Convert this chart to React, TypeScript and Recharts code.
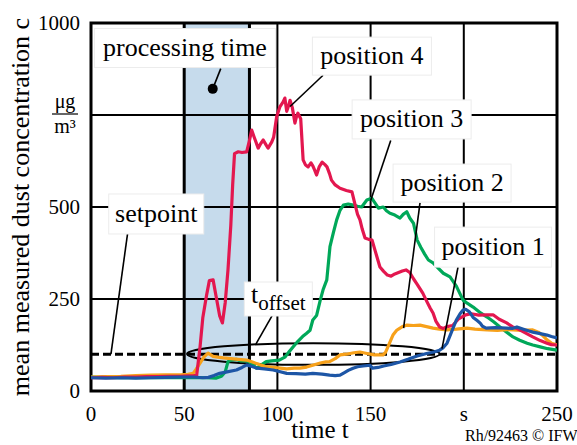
import React from "react";
import {
  LineChart,
  Line,
  XAxis,
  YAxis,
  CartesianGrid,
  ReferenceArea,
  ReferenceLine,
  ReferenceDot,
  Label,
} from "recharts";

const FONT = "'Liberation Serif', 'Times New Roman', serif";
const serif = { fontFamily: FONT };

const timeTicks = [0, 50, 100, 150, 200, 250];
const timeTickLabels = ["0", "50", "100", "150", "s", "250"];
const concTicks = [0, 250, 500, 750, 1000];
const concTickLabels = ["0", "250", "500", "", "1000"];

const setpoint = 100;
const processingTime = [50, 85];
const offsetWindowTime = [51.5, 187];
const offsetWindowConc = [71, 130];

// [time s, concentration µg/m³]
const position4 = [
  [0, 36], [6, 37], [12, 36], [18, 38], [24, 38], [30, 39], [36, 39], [42, 40], [48, 40], [52, 41],
  [55, 41], [56.7, 43], [58.5, 120], [60, 200], [62, 260], [63.5, 300], [65.5, 302], [67, 260], [69, 205], [70.5, 185],
  [72, 240], [73.5, 330], [75, 450], [76, 560], [77, 645], [79, 650], [81, 648], [83.5, 650], [85, 680], [86.2, 709],
  [87.5, 690], [89.7, 660], [91, 672], [92.4, 682], [94, 668], [95, 660], [97, 677], [98, 690], [99.6, 745], [101.4, 773],
  [103, 785], [104, 796], [105, 760], [106, 775], [106.8, 790], [108, 770], [109.4, 728], [110.2, 745], [111, 755], [112.5, 740],
  [113.8, 628], [115, 615], [116.5, 609], [118, 620], [119, 612], [120, 600], [121, 587], [122.5, 610], [124, 622], [125.5, 615],
  [126.6, 609], [128, 590], [129, 573], [131, 560], [133.6, 551], [137, 545], [140, 541], [141.5, 510], [143, 480], [144.3, 465],
  [145.5, 440], [147, 416], [149, 412], [150.8, 410], [152.5, 380], [155, 337], [157, 325], [159, 315], [161, 312], [163, 318],
  [165, 322], [167, 326], [169, 329], [171, 322], [173, 305], [175, 290], [178, 266], [180, 245], [182, 225], [183.5, 212],
  [185, 190], [187, 174], [189, 170], [191, 175], [194, 178], [197, 195], [201, 207], [204, 210], [208, 206], [212, 207],
  [215.7, 207], [219, 195], [223, 185], [226, 175], [230, 166], [234, 155], [237, 147], [241, 137], [244.6, 130], [247, 126],
  [250, 125],
];

const position3 = [
  [0, 38], [8, 37], [16, 36], [24, 37], [32, 36], [40, 37], [48, 36], [55, 37], [62, 36], [67, 35],
  [70, 40], [72, 52], [73.5, 80], [75, 84], [78, 86], [80, 82], [83.7, 82], [86, 75], [88.9, 62], [91, 70],
  [94, 80], [97, 82], [101, 84], [104, 92], [106, 105], [108.5, 120], [111, 135], [113.5, 148], [115.7, 157], [117.5, 165],
  [119, 193], [121, 205], [123, 247], [124.5, 275], [126.5, 302], [128.2, 392], [130, 430], [131.8, 465], [133.5, 490], [135.4, 505],
  [138, 508], [140.7, 505], [143, 502], [145.2, 500], [148, 519], [150.6, 524], [152.5, 510], [154.2, 497], [156.8, 500], [158.5, 490],
  [160.4, 483], [163, 478], [165.8, 470], [167.5, 480], [169.4, 487], [171, 470], [173, 456], [175, 410], [177, 390], [179, 372],
  [181, 356], [183.5, 348], [186, 335], [189, 320], [192.6, 310], [196, 285], [199.6, 247], [202, 238], [205, 228], [209, 212],
  [212.5, 201], [216, 188], [219.4, 174], [223, 160], [226.4, 147], [230, 138], [234, 130], [237, 125], [241, 120], [245, 115],
  [250, 111],
];

const position2 = [
  [0, 38], [8, 39], [16, 40], [24, 42], [32, 43], [40, 44], [48, 44], [52, 45], [54.8, 48], [56.5, 60],
  [58.5, 76], [60.5, 92], [62.8, 103], [65.5, 94], [68, 92], [71, 90], [75, 88], [79, 86], [83.5, 84], [87, 78],
  [90.7, 71], [94, 66], [98, 64], [101.4, 62], [105, 60], [109, 62], [112, 62], [115.7, 65], [119, 70], [123, 76],
  [126, 79], [128, 80], [131, 88], [133.6, 98], [137, 100], [141, 104], [144.3, 106], [148, 102], [152, 98], [156.7, 98],
  [158, 105], [159.3, 120], [161, 140], [162, 152], [164, 165], [165.8, 171], [167.5, 176], [169.5, 179], [173, 178], [176.5, 179],
  [180, 175], [183.5, 171], [187, 168], [191, 166], [196, 168], [201.7, 171], [206, 168], [212.5, 166], [218, 165], [223, 167],
  [226.5, 166], [231, 165], [237, 166], [240, 160], [242.5, 150], [244.6, 139], [247, 130], [250, 125],
];

const position1 = [
  [0, 36], [8, 35], [16, 36], [24, 35], [32, 36], [40, 37], [48, 38], [55, 38], [60, 36], [63, 37],
  [66, 42], [69, 48], [73, 52], [78, 57], [81, 64], [83.5, 71], [86, 67], [89, 62], [93, 60], [97.7, 57],
  [101, 53], [105, 48], [110, 47], [115, 46], [119, 48], [124, 46], [128, 43], [131, 42], [133.6, 43], [136, 50],
  [138, 56], [140.6, 62], [143, 66], [146, 68], [149.7, 70], [151, 62], [154, 64], [157, 68], [161, 72], [165.8, 79],
  [170, 86], [175, 95], [180, 102], [184, 106], [187, 111], [189, 118], [191, 130], [193, 155], [196, 193], [198, 210],
  [199.6, 220], [201, 222], [203, 215], [205, 200], [207, 192], [208.7, 185], [210, 176], [212, 171], [217, 172], [223, 171],
  [226, 170], [228.5, 174], [232, 168], [235, 163], [237, 160], [241, 156], [244.6, 152], [247, 148], [250, 144],
];

// annotation text, box centre [t, c], leader line from / to [t, c]
const annotationText = ["processing time", "position 4", "position 3", "position 2", "position 1", "setpoint", "offset"];
const annotationAt = [[50.4, 932], [150.7, 910], [172, 738], [193.7, 565], [215.7, 391], [35, 481], [100.5, 250]];
const leaderFrom = [[69.6, 876], [124.5, 858], [160.8, 681], [176.5, 511], [196.9, 337], [19.6, 427], [97.1, 204]];
const leaderTo = [[65.3, 821], [106.8, 773], [150, 517], [167.7, 171], [188.3, 115], [10.7, 100], [88.3, 126]];
const boxSize = [[181, 39], [119, 38], [119, 39], [118, 38], [117, 40], [95, 40], [68, 34]];

const series = [
  { name: "position 3", data: position3, color: "#00a859" },
  { name: "position 2", data: position2, color: "#f7a11a" },
  { name: "position 4", data: position4, color: "#e3174f" },
  { name: "position 1", data: position1, color: "#1d56a6" },
];

const toRows = (pts: number[][]) => pts.map(([t, c]) => ({ t, c }));

function XTick({ x, y, payload }: any) {
  const i = timeTicks.indexOf(payload.value);
  return (
    <text x={x} y={y + 30} textAnchor="middle" fontSize={21} style={serif} fill="#000">
      {timeTickLabels[i]}
    </text>
  );
}

function YTick({ x, y, payload }: any) {
  if (payload.value === 750) {
    return (
      <g fill="#000" fontSize={20} style={serif}>
        <text x={x - 26} y={y - 7} textAnchor="middle" style={serif}>μg</text>
        <line x1={x - 39} x2={x - 13} y1={y - 1} y2={y - 1} stroke="#000" strokeWidth={1.2} />
        <text x={x - 26} y={y + 18} textAnchor="middle" style={serif}>m³</text>
      </g>
    );
  }
  const i = concTicks.indexOf(payload.value);
  return (
    <text x={x - 11} y={y + 7} textAnchor="end" fontSize={21} style={serif} fill="#000">
      {concTickLabels[i]}
    </text>
  );
}

function AnnotationBox({ cx, cy, index }: any) {
  const [w, h] = boxSize[index];
  const text = annotationText[index];
  return (
    <g>
      <rect x={cx - w / 2} y={cy - h / 2} width={w} height={h} fill="#fff" stroke="#ececec" strokeWidth={1} />
      {text === "offset" ? (
        <text x={cx} y={cy + 4} textAnchor="middle" style={serif} fill="#000" fontSize={26}>
          t<tspan fontSize={21} dy={7}>offset</tspan>
        </text>
      ) : (
        <text x={cx} y={cy + 8} textAnchor="middle" style={serif} fill="#000" fontSize={26}>
          {text}
        </text>
      )}
    </g>
  );
}

export default function App() {
  return (
    <div style={{ position: "absolute", left: 0, top: 0, width: 577, height: 445, background: "#fff", fontFamily: FONT }}>
      <LineChart width={577} height={445} margin={{ top: 23, right: 20, bottom: 0, left: 0 }} style={serif}>
        <ReferenceArea
          x1={processingTime[0]}
          x2={processingTime[1]}
          y1={0}
          y2={1000}
          fill="#c6dbec"
          fillOpacity={1}
          stroke="none"
        />
        <CartesianGrid stroke="#000" strokeWidth={2} strokeOpacity={1} />
        {concTicks.slice(1, 4).map((c) => (
          <ReferenceLine
            key={"g" + c}
            segment={[
              { x: processingTime[0], y: c },
              { x: processingTime[1], y: c },
            ]}
            stroke="#000"
            strokeWidth={2}
          />
        ))}
        <XAxis
          dataKey="t"
          type="number"
          domain={[0, 250]}
          ticks={timeTicks}
          height={54}
          tickSize={0}
          tickMargin={0}
          axisLine={false}
          tick={<XTick />}
          allowDataOverflow
        >
          <Label
            content={({ viewBox }: any) => {
              const vb = viewBox || { x: 91, y: 391, width: 466 };
              return (
                <g fill="#000" style={serif}>
                  <text x={vb.x + vb.width / 2 - 4} y={vb.y + 47} textAnchor="middle" fontSize={25} style={serif}>
                    time t
                  </text>
                  <text x={465} y={vb.y + 50} fontSize={16} style={serif}>
                    Rh/92463 © IFW
                  </text>
                </g>
              );
            }}
          />
        </XAxis>
        <YAxis
          type="number"
          domain={[0, 1000]}
          ticks={concTicks}
          width={91}
          tickSize={0}
          tickMargin={0}
          axisLine={false}
          tick={<YTick />}
          allowDataOverflow
        >
          <Label
            content={({ viewBox }: any) => {
              const vb = viewBox || { x: 0, y: 23, height: 368 };
              const cx = vb.x + 20;
              const cy = vb.y + vb.height / 2;
              return (
                <text
                  transform={`translate(${cx}, ${cy}) rotate(-90)`}
                  textAnchor="middle"
                  dominantBaseline="central"
                  style={serif}
                  fontSize={26}
                  fill="#000"
                >
                  mean measured dust concentration c
                </text>
              );
            }}
          />
        </YAxis>
        <ReferenceLine x={processingTime[0]} stroke="#000" strokeWidth={3} />
        <ReferenceLine x={processingTime[1]} stroke="#000" strokeWidth={3} />
        <ReferenceLine y={setpoint} stroke="#000" strokeWidth={3} strokeDasharray="8 4" />
        <ReferenceArea
          x1={offsetWindowTime[0]}
          x2={offsetWindowTime[1]}
          y1={offsetWindowConc[0]}
          y2={offsetWindowConc[1]}
          shape={(p: any) => (
            <ellipse
              cx={p.x + p.width / 2}
              cy={p.y + p.height / 2}
              rx={Math.abs(p.width / 2)}
              ry={Math.abs(p.height / 2)}
              fill="none"
              stroke="#000"
              strokeWidth={2}
            />
          )}
        />
        {series.map((s) => (
          <Line
            key={s.name}
            data={toRows(s.data)}
            dataKey="c"
            name={s.name}
            type="linear"
            stroke={s.color}
            strokeWidth={3.2}
            dot={false}
            strokeLinejoin="round"
            isAnimationActive={false}
          />
        ))}
        {leaderFrom.map((f, i) => (
          <ReferenceLine
            key={"l" + i}
            segment={[
              { x: f[0], y: f[1] },
              { x: leaderTo[i][0], y: leaderTo[i][1] },
            ]}
            stroke="#000"
            strokeWidth={1.6}
          />
        ))}
        <ReferenceDot x={leaderTo[0][0]} y={leaderTo[0][1]} r={5} fill="#000" stroke="none" />
        {annotationAt.map((a, i) => (
          <ReferenceDot
            key={"a" + i}
            x={a[0]}
            y={a[1]}
            r={1}
            shape={(p: any) => <AnnotationBox cx={p.cx} cy={p.cy} index={i} />}
          />
        ))}
        <ReferenceArea x1={0} x2={250} y1={0} y2={1000} fill="none" stroke="#000" strokeWidth={3} />
      </LineChart>
    </div>
  );
}
